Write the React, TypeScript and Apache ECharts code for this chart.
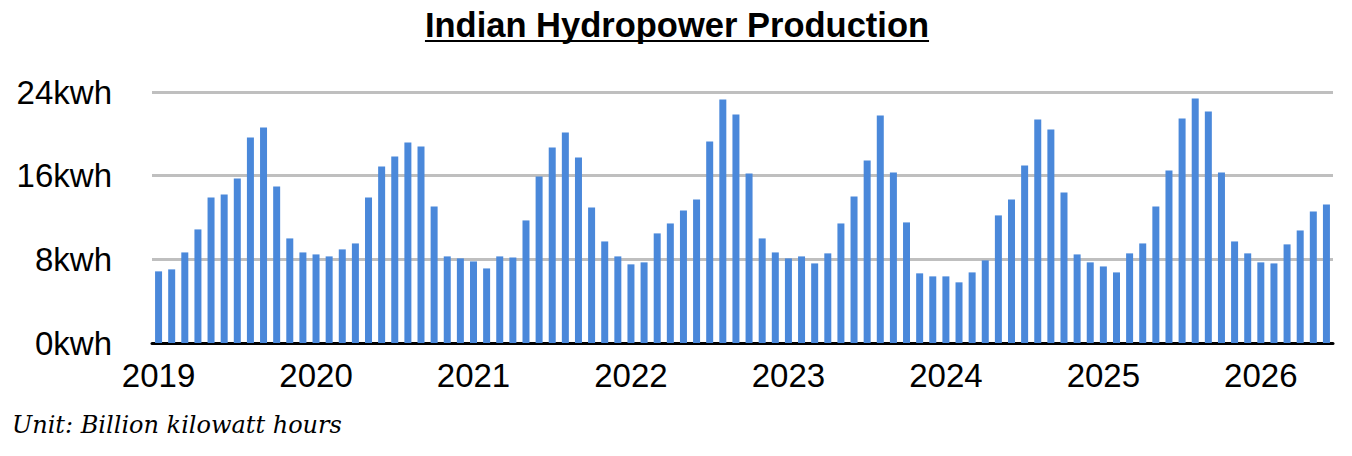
import React, { useEffect, useRef } from "react";
import * as echarts from "echarts";

const TITLE = "Indian Hydropower Production";
const UNIT_NOTE = "Unit: Billion kilowatt hours";
const YEARS = ["2019", "2020", "2021", "2022", "2023", "2024", "2025", "2026"];
const MONTHS = ["01", "02", "03", "04", "05", "06", "07", "08", "09", "10", "11", "12"];

const v2019 = [6.85, 7.04, 8.66, 10.86, 13.92, 14.2, 15.73, 19.65, 20.6, 14.97, 10.0, 8.66];
const v2020 = [8.47, 8.28, 8.95, 9.52, 13.92, 16.88, 17.83, 19.17, 18.79, 13.06, 8.28, 8.09];
const v2021 = [7.8, 7.13, 8.28, 8.18, 11.72, 15.92, 18.69, 20.13, 17.74, 12.96, 9.71, 8.28];
const v2022 = [7.52, 7.71, 10.48, 11.43, 12.68, 13.73, 19.27, 23.28, 21.85, 16.21, 10.0, 8.66];
const v2023 = [8.09, 8.28, 7.61, 8.57, 11.43, 14.01, 17.45, 21.75, 16.31, 11.53, 6.66, 6.37];
const v2024 = [6.37, 5.8, 6.75, 7.9, 12.2, 13.73, 16.97, 21.37, 20.41, 14.39, 8.47, 7.71];
const v2025 = [7.32, 6.75, 8.57, 9.52, 13.06, 16.5, 21.46, 23.38, 22.13, 16.31, 9.71, 8.57];
const v2026 = [7.71, 7.61, 9.43, 10.76, 12.58, 13.25];

const yearValues = [v2019, v2020, v2021, v2022, v2023, v2024, v2025, v2026];

export default function App() {
  const ref = useRef<HTMLDivElement>(null);

  useEffect(() => {
    if (!ref.current) return;
    const chart = echarts.init(ref.current, undefined, { renderer: "svg" });

    const categories: string[] = [];
    const values: number[] = [];
    yearValues.forEach((arr, yi) => {
      arr.forEach((v, mi) => {
        categories.push(YEARS[yi] + "-" + MONTHS[mi]);
        values.push(v);
      });
    });

    const titleFont = 'bold 34.5px "Liberation Sans", Arial, sans-serif';
    let titleW = 498;
    try {
      const ctx = document.createElement("canvas").getContext("2d");
      if (ctx) {
        ctx.font = titleFont;
        titleW = ctx.measureText(TITLE).width;
      }
    } catch (e) {}
    const cx = 677;

    chart.setOption({
      animation: false,
      grid: { left: 152, right: 19, top: 92, bottom: 113, containLabel: false },
      xAxis: {
        type: "category",
        data: categories,
        boundaryGap: true,
        axisLine: { show: true, lineStyle: { color: "#000", width: 3 } },
        axisTick: { show: false },
        axisLabel: {
          interval: (idx: number) => idx % 12 === 0,
          formatter: (val: string) => val.slice(0, 4),
          fontFamily: '"Liberation Sans", Arial, sans-serif',
          fontSize: 33,
          color: "#000",
          margin: 16,
        },
        splitLine: { show: false },
      },
      yAxis: {
        type: "value",
        min: 0,
        max: 24,
        interval: 8,
        axisLine: { show: false },
        axisTick: { show: false },
        axisLabel: {
          formatter: "{value}kwh",
          fontFamily: '"Liberation Sans", Arial, sans-serif',
          fontSize: 33,
          color: "#000",
          margin: 40,
          padding: [6, 0, 0, 0],
        },
        splitLine: { show: true, lineStyle: { color: "#bfbfbf", width: 3 } },
      },
      series: [
        {
          type: "bar",
          data: values,
          barWidth: 7,
          itemStyle: { color: "#4a88da" },
        },
      ],
      graphic: [
        {
          type: "text",
          x: cx,
          y: 25,
          style: {
            text: TITLE,
            font: titleFont,
            fill: "#000",
            align: "center",
            verticalAlign: "middle",
          },
        },
        {
          type: "line",
          shape: { x1: cx - titleW / 2, y1: 41, x2: cx + titleW / 2, y2: 41 },
          style: { stroke: "#000", lineWidth: 2 },
        },
        {
          type: "text",
          x: 12,
          y: 425,
          style: {
            text: UNIT_NOTE,
            font: 'italic 24px "DejaVu Serif", Georgia, serif',
            fill: "#000",
            align: "left",
            verticalAlign: "middle",
          },
        },
      ],
    });

    return () => chart.dispose();
  }, []);

  return (
    <div
      ref={ref}
      style={{ position: "absolute", left: 0, top: 0, width: 1352, height: 456, background: "#fff" }}
    />
  );
}
